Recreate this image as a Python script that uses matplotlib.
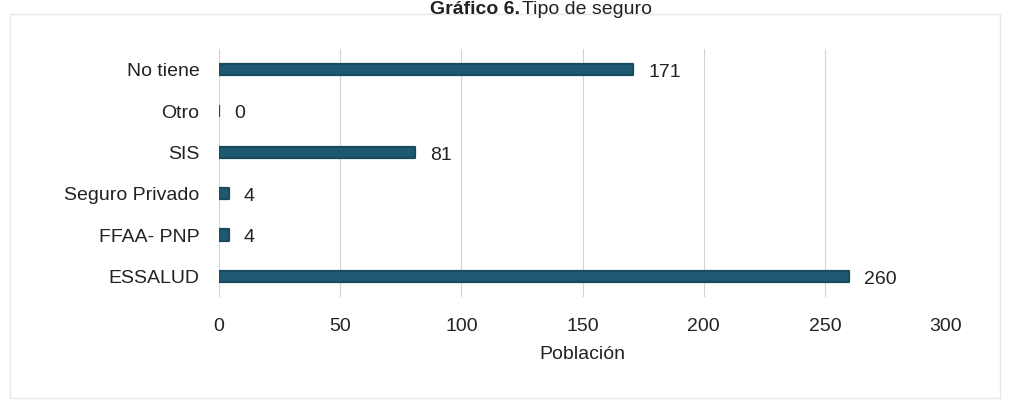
import matplotlib.pyplot as plt
from matplotlib.patches import Rectangle

# data, bottom to top as drawn
categories = ['ESSALUD', 'FFAA- PNP', 'Seguro Privado', 'SIS', 'Otro', 'No tiene']
values = [260, 4, 4, 81, 0, 171]
xticks = [0, 50, 100, 150, 200, 250, 300]

barColor = '#1d5a72'
edgeColor = '#1a4a5e'
textColor = '#222222'

plt.rcParams['font.family'] = ['Liberation Sans Narrow', 'Liberation Sans', 'DejaVu Sans']

fig = plt.figure(figsize=(10.1, 4.12), dpi=100)
ax = fig.add_axes([219 / 1010, 1 - 297 / 412, (946 - 219) / 1010, (297 - 49) / 412])

ypos = list(range(len(categories)))
ax.barh(ypos, values, height=0.28, color=barColor, edgecolor=edgeColor,
        linewidth=1.6, joinstyle='round', zorder=3)

for y, v in zip(ypos, values):
    ax.annotate(str(v), (v, y), xytext=(11, -2), textcoords='offset points',
                va='center', ha='left', fontsize=14, color=textColor)

ax.set_xlim(0, 300)
ax.set_ylim(-0.5, len(categories) - 0.5)
ax.set_xticks(xticks)
ax.set_yticks(ypos)
ax.set_yticklabels(categories)
ax.tick_params(axis='both', length=0, labelsize=14, colors=textColor)
ax.tick_params(axis='x', pad=15)
ax.tick_params(axis='y', pad=14)
ax.xaxis.grid(True, color='#d4d4d4', linewidth=0.8, zorder=0)
for s in ax.spines.values():
    s.set_visible(False)
ax.set_xlabel('Población', fontsize=14, color=textColor, labelpad=8)

# title at the very top
fig.text(0.515, 0.997, 'Gráfico 6.', fontsize=14, fontweight='bold', ha='right',
         va='top', color=textColor)
fig.text(0.517, 0.997, 'Tipo de seguro', fontsize=14, ha='left', va='top', color=textColor)

# faint outer frame
fig.patches.append(Rectangle((10 / 1010, 14 / 412), 990 / 1010, 384 / 412,
                             transform=fig.transFigure, fill=False,
                             edgecolor='#e8e8e8', linewidth=1.0))

fig.savefig('out.png', dpi=100)
